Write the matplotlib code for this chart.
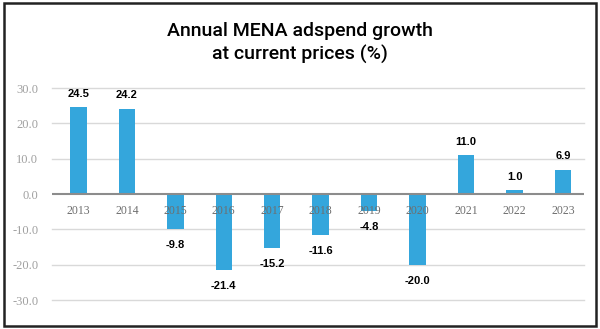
import matplotlib
matplotlib.use('Agg')
import matplotlib.pyplot as plt
from matplotlib.patches import Rectangle

years = ['2013', '2014', '2015', '2016', '2017', '2018',
         '2019', '2020', '2021', '2022', '2023']
growth = [24.5, 24.2, -9.8, -21.4, -15.2, -11.6, -4.8, -20.0, 11.0, 1.0, 6.9]
yticks = [-30, -20, -10, 0, 10, 20, 30]

bar_color = '#34a6dc'

fig = plt.figure(figsize=(6, 3.29), dpi=100)
ax = fig.add_axes([0.087, 0.088, 0.886, 0.6445])

x = list(range(len(years)))
ax.bar(x, growth, width=0.34, color=bar_color, zorder=2)

ax.set_ylim(-30, 30)
ax.set_xlim(-0.54, 10.43)
ax.set_yticks(yticks)
ax.set_yticklabels([f'{v:.1f}' for v in yticks], family='Liberation Serif',
                   fontsize=9, color='#a0a0a0')
ax.tick_params(axis='y', length=0, pad=10)
ax.set_xticks([])
for y in yticks:
    if y != 0:
        ax.axhline(y, color='#d9d9d9', lw=1, zorder=1, clip_on=False)
ax.axhline(0, color='#8c8c8c', lw=1.5, zorder=3)
for s in ax.spines.values():
    s.set_visible(False)

# year labels sit just under the zero line
for xi, yr in zip(x, years):
    ax.annotate(yr, (xi, 0), xytext=(0, -8), textcoords='offset points',
                ha='center', va='top', family='Liberation Serif',
                fontsize=8.5, color='#6e6e6e', zorder=4)

# value labels
for xi, v in zip(x, growth):
    off = 6 if v >= 0 else -8
    ax.annotate(f'{v:.1f}', (xi, v), xytext=(0, off), textcoords='offset points',
                ha='center', va='bottom' if v >= 0 else 'top',
                fontsize=8, fontweight='bold',
                family='Liberation Sans', color='black')

fig.text(0.5, 0.905, 'Annual MENA adspend growth', ha='center', va='center',
         fontsize=14, family='Roboto', fontweight='medium')
fig.text(0.5, 0.835, 'at current prices (%)', ha='center', va='center',
         fontsize=14, family='Roboto', fontweight='medium')

fig.patches.append(Rectangle((0.006, 0.01), 0.988, 0.98, transform=fig.transFigure,
                             fill=False, edgecolor='#222222', lw=1.8))

fig.savefig('out.png', dpi=100)
